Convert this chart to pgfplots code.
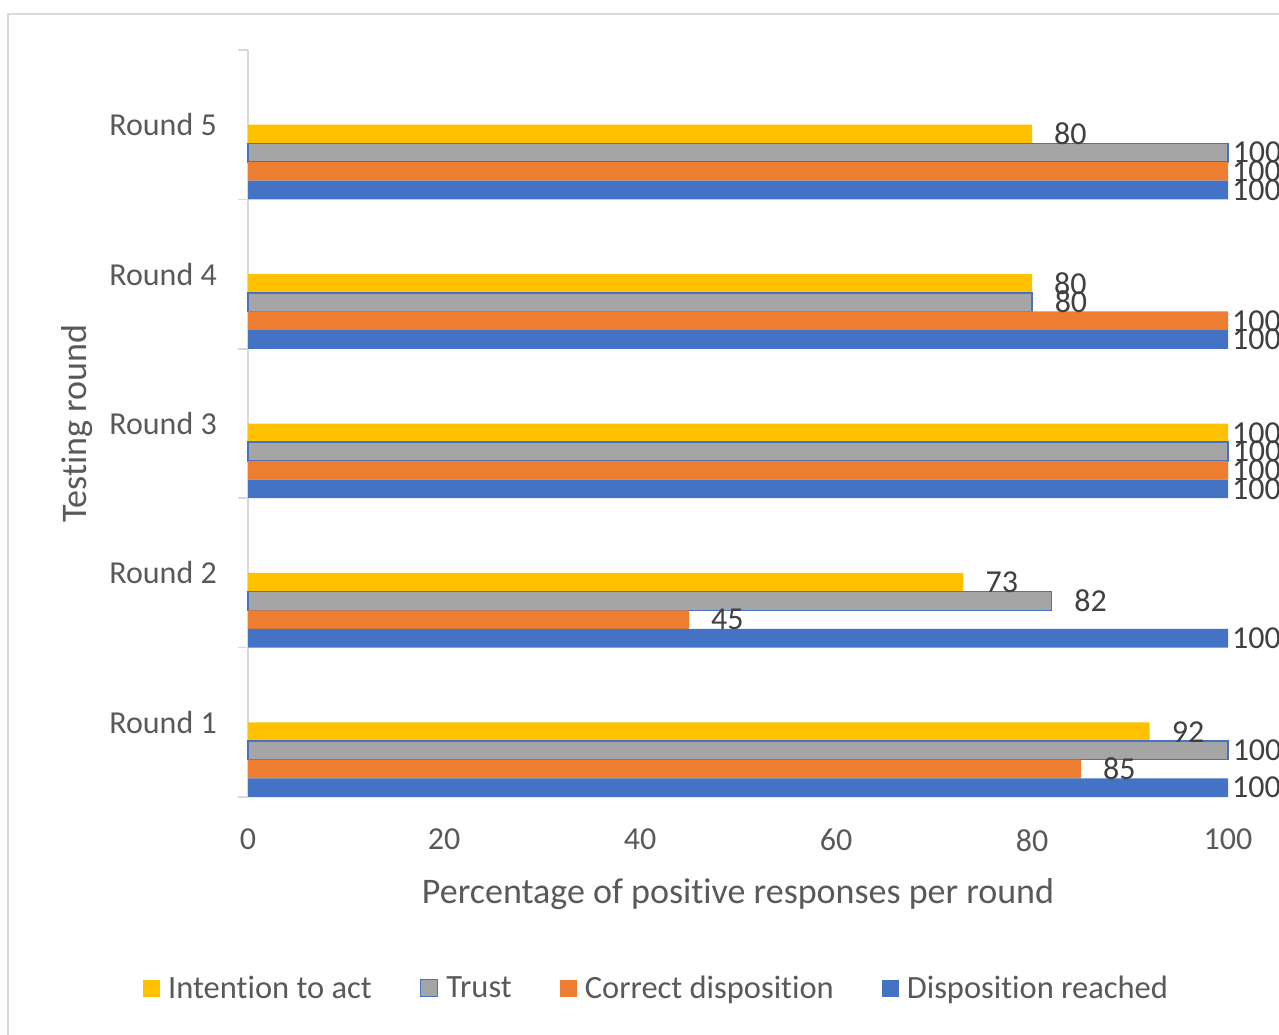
\documentclass[border=0pt]{standalone}
\usepackage{pgfplots}
\pgfplotsset{compat=1.18}
\usepackage{pgfplotstable}
\usepackage{fontspec}
\setmainfont{Carlito}[Ligatures=NoCommon]

\definecolor{cIntent}{HTML}{FFC000}
\definecolor{cTrust}{HTML}{A5A5A5}
\definecolor{cCorrect}{HTML}{ED7D31}
\definecolor{cReached}{HTML}{4472C4}
\definecolor{txt}{HTML}{595959}
\definecolor{lbl}{HTML}{404040}
\definecolor{framegray}{HTML}{D9D9D9}

% Percentage of positive responses per testing round
\pgfplotstableread{
round intent trust correct reached
1     92     100   85      100
2     73     82    45      100
3     100    100   100     100
4     80     80    100     100
5     80     100   100     100
}\results

\newcommand{\tickfont}{\fontsize{32}{38}\selectfont}
\newcommand{\legfont}{\fontsize{32.5}{39}\selectfont}
\newcommand{\titlefont}{\fontsize{36}{43}\selectfont}

\begin{document}
\begin{tikzpicture}
\useasboundingbox (0,0) rectangle (1279pt,1034pt);
\clip (0,0) rectangle (1279pt,1034pt);
% chart area border
\draw[framegray, line width=2pt] (8pt,-20pt) -- (8pt,1020pt) -- (1320pt,1020pt);
\begin{axis}[
  at={(248pt,237pt)}, anchor=south west,
  scale only axis, width=980pt, height=747pt,
  clip=false,
  xbar, bar width=0.125,
  xmin=0, xmax=100, ymin=0.5, ymax=5.5,
  axis x line*=bottom, axis y line*=left,
  x axis line style={draw=none},
  y axis line style={framegray, line width=1.5pt},
  xtick={0,20,...,100},
  ytick={1,2,3,4,5},
  yticklabels={Round 1,Round 2,Round 3,Round 4,Round 5},
  minor ytick={0.5,1.5,...,5.5},
  tick align=outside,
  major tick length=0pt,
  minor tick length=10pt,
  minor tick style={framegray, line width=1.5pt},
  major tick style={draw=none},
  /pgf/number format/assume math mode=true,
  ticklabel style={font=\tickfont, text=txt, inner sep=0pt},
  xticklabel style={yshift=-32pt},
  yticklabel style={xshift=-31pt},
  xlabel={Percentage of positive responses per round},
  xlabel style={at={(axis description cs:0.5,-0.1295)}, anchor=center, font=\titlefont, text=txt},
  ylabel={Testing round},
  ylabel style={at={(axis description cs:-0.1745,0.5)}, anchor=center, font=\titlefont, text=txt},
  point meta=x,
  nodes near coords={\pgfmathprintnumber{\pgfplotspointmeta}},
  visualization depends on={rawx \as \rawx},
  nodes near coords style={font=\tickfont, text=lbl, anchor=west, inner sep=0pt,
    xshift={ifthenelse(\rawx>99,4,22)}},
  legend columns=4,
  legend cell align=left,
  legend style={at={(axis description cs:-0.1071,-0.2557)}, anchor=west,
    draw=none, fill=none, inner sep=0pt, font=\legfont, text=txt,
    nodes={inner sep=0pt},
    /tikz/every odd column/.append style={column sep=8pt},
    /tikz/every even column/.append style={column sep=48pt}},
]
\addplot[fill=cIntent, draw=none, bar shift=-0.0625,
  legend image code/.code={\fill[cIntent] (0pt,-8.5pt) rectangle (17pt,8.5pt);}]
  table[x=intent, y=round] {\results};
\addlegendentry{Intention to act}
\addplot[fill=cTrust, draw=cReached, line width=1.5pt, bar shift=-0.1875,
  legend image code/.code={\draw[fill=cTrust, draw=cReached, line width=1.5pt] (0pt,-8.5pt) rectangle (17pt,8.5pt);}]
  table[x=trust, y=round] {\results};
\addlegendentry{Trust}
\addplot[fill=cCorrect, draw=none, bar shift=-0.3125,
  legend image code/.code={\fill[cCorrect] (0pt,-8.5pt) rectangle (17pt,8.5pt);}]
  table[x=correct, y=round] {\results};
\addlegendentry{Correct disposition}
\addplot[fill=cReached, draw=none, bar shift=-0.4375,
  legend image code/.code={\fill[cReached] (0pt,-8.5pt) rectangle (17pt,8.5pt);}]
  table[x=reached, y=round] {\results};
\addlegendentry{Disposition reached}
\end{axis}
\end{tikzpicture}
\end{document}
